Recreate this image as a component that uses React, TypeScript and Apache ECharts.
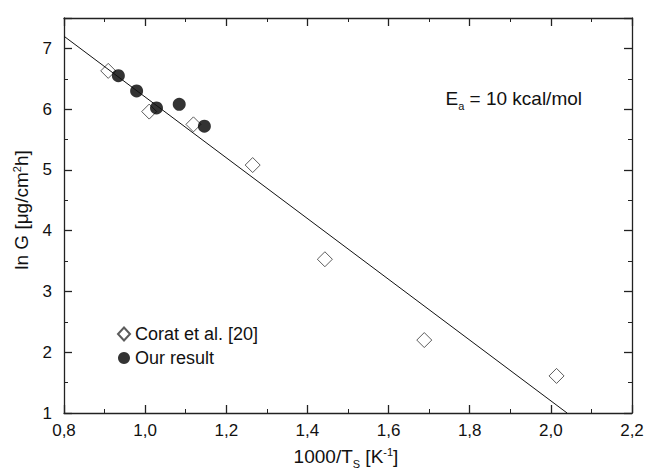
import React, { useEffect, useRef } from "react";
import * as echarts from "echarts";

const xTicks = [0.8, 1.0, 1.2, 1.4, 1.6, 1.8, 2.0, 2.2];
const coratX = [0.909, 1.01, 1.119, 1.265, 1.443, 1.688, 2.014];
const coratY = [6.63, 5.96, 5.75, 5.08, 3.53, 2.2, 1.61];
const ourX = [0.934, 0.979, 1.028, 1.084, 1.146];
const ourY = [6.55, 6.3, 6.02, 6.08, 5.72];
const fitX = [0.8, 2.04];
const fitY = [7.2, 1.0];

const FONT = "'Liberation Sans', Arial, sans-serif";

export default function App() {
  const ref = useRef<HTMLDivElement>(null);
  useEffect(() => {
    if (!ref.current) return;
    const chart = echarts.init(ref.current, undefined, { renderer: "svg" });
    const fmtX = (v: number) => v.toFixed(1).replace(".", ",");
    const axisCommon = {
      axisLine: { show: true, onZero: false, lineStyle: { color: "#222", width: 1.3 } },
      axisTick: { show: true, inside: true, length: 8, lineStyle: { color: "#222", width: 1.3 } },
      minorTick: { show: true, splitNumber: 2, length: 4, lineStyle: { color: "#222", width: 1 } },
      splitLine: { show: false },
    };
    const main = (fs: number) => ({ fontFamily: FONT, fontSize: fs, fill: "#111", lineHeight: fs + 4, verticalAlign: "top" });
    const sup = { fontFamily: FONT, fontSize: 11, fill: "#111", lineHeight: 10, verticalAlign: "top" };
    const sub = { fontFamily: FONT, fontSize: 11, fill: "#111", lineHeight: 8, verticalAlign: "bottom" };
    chart.setOption({
      animation: false,
      backgroundColor: "#fff",
      grid: { left: 64, right: 17, top: 18, bottom: 58, containLabel: false },
      xAxis: [
        {
          type: "value", min: xTicks[0], max: xTicks[xTicks.length - 1], interval: 0.2,
          ...axisCommon,
          axisLabel: { formatter: fmtX, fontFamily: FONT, fontSize: 17, color: "#111", margin: 9 },
        },
        {
          type: "value", position: "top", min: xTicks[0], max: xTicks[xTicks.length - 1], interval: 0.2,
          ...axisCommon, axisLabel: { show: false },
        },
      ],
      yAxis: [
        {
          type: "value", min: 1, max: 7.5, interval: 1,
          ...axisCommon,
          axisLabel: { fontFamily: FONT, fontSize: 17, color: "#111", margin: 12,
            formatter: (v: number) => (v > 7 ? "" : String(v)) },
        },
        {
          type: "value", position: "right", min: 1, max: 7.5, interval: 1,
          ...axisCommon, axisLabel: { show: false },
        },
      ],
      legend: {
        orient: "vertical", left: 112, top: 320, itemGap: 6, itemWidth: 12, itemHeight: 13,
        textStyle: { fontFamily: FONT, fontSize: 18, color: "#111" },
        data: ["Corat et al. [20]", "Our result"],
      },
      series: [
        {
          name: "fit", type: "line", data: fitX.map((x, i) => [x, fitY[i]]),
          showSymbol: false, symbol: "none", lineStyle: { color: "#111", width: 1 }, silent: true,
        },
        {
          name: "Corat et al. [20]", type: "scatter", symbol: "diamond", symbolSize: 15,
          data: coratX.map((x, i) => [x, coratY[i]]),
          itemStyle: { color: "#fff", borderColor: "#333", borderWidth: 1 },
        },
        {
          name: "Our result", type: "scatter", symbol: "circle", symbolSize: 13,
          data: ourX.map((x, i) => [x, ourY[i]]),
          itemStyle: { color: "#000" },
        },
      ],
      graphic: [
        {
          type: "text", x: 23, y: 210, rotation: Math.PI / 2,
          style: {
            text: "{m|ln G [μg/cm}{s|2}{m|h]}", align: "center", verticalAlign: "middle",
            rich: { m: main(19), s: sup },
          },
        },
        {
          type: "text", x: 346, y: 458,
          style: {
            text: "{m|1000/T}{b|S}{m| [K}{s|-1}{m|]}", align: "center", verticalAlign: "middle",
            rich: { m: main(19), s: sup, b: sub },
          },
        },
        {
          type: "text", x: 582, y: 100,
          style: {
            text: "{m|E}{b|a}{m| = 10 kcal/mol}", align: "right", verticalAlign: "middle",
            rich: { m: main(19), b: sub },
          },
        },
      ],
    });
    return () => chart.dispose();
  }, []);
  return <div ref={ref} style={{ width: 649, height: 471, position: "absolute", left: 0, top: 0 }} />;
}
